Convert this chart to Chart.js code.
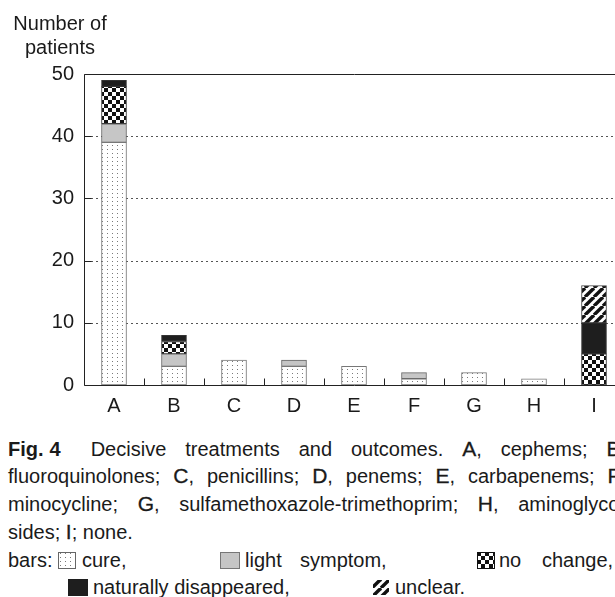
<!DOCTYPE html>
<html>
<head>
<meta charset="utf-8">
<script src="https://cdn.jsdelivr.net/npm/chart.js@4.4.1/dist/chart.umd.min.js"></script>
<style>
  html, body { margin: 0; padding: 0; width: 615px; height: 597px; overflow: hidden; background: #fff; }
  body { position: relative; font-family: "Liberation Sans", Arial, sans-serif; color: #1a1a1a; }
  #wrap { position: absolute; left: 0; top: 0; width: 660px; height: 430px; }
  .ytitle { position: absolute; left: 0; width: 120px; text-align: center; font-size: 20px; line-height: 24px; }
  .cap { position: absolute; left: 8px; width: 618px; font-size: 20px; line-height: 24px; white-space: nowrap;
         text-align: justify; text-align-last: justify; }
  .cap.last { text-align: left; text-align-last: left; }
  .k { font-size: 21px; -webkit-text-stroke: 0.3px #1a1a1a; }
  .fig { font-weight: bold; margin-right: 30px; }
  .fig .gap { display: inline-block; width: 6px; }
  .lg { position: absolute; font-size: 20px; line-height: 24px; white-space: nowrap; }
  canvas.sw { position: absolute; }
</style>
</head>
<body>
<div id="wrap"><canvas id="chart" width="660" height="430"></canvas></div>
<div class="ytitle" style="top:11px">Number of</div>
<div class="ytitle" style="top:35px">patients</div>

<div class="cap" style="top:437px"><span class="fig">Fig.<span class="gap"></span>4</span>Decisive treatments and outcomes. <span class="k">A</span>, cephems; <span class="k">B</span>,</div>
<div class="cap" style="top:464px">fluoroquinolones; <span class="k">C</span>, penicillins; <span class="k">D</span>, penems; <span class="k">E</span>, carbapenems; <span class="k">F</span>,</div>
<div class="cap" style="top:492px">minocycline; <span class="k">G</span>, sulfamethoxazole-trimethoprim; <span class="k">H</span>, aminoglyco-</div>
<div class="cap last" style="top:520px">sides; <span class="k">I</span>; none.</div>

<div class="lg" style="left:8px;top:548px">bars:</div>
<div class="lg" style="left:82px;top:548px">cure,</div>
<div class="lg" style="left:245px;top:548px">light</div>
<div class="lg" style="left:300px;top:548px">symptom,</div>
<div class="lg" style="left:499px;top:548px">no</div>
<div class="lg" style="left:542px;top:548px">change,</div>
<div class="lg" style="left:93px;top:575px">naturally disappeared,</div>
<div class="lg" style="left:395px;top:575px">unclear.</div>

<script>
// Outcome counts per decisive treatment (stacked bars)
const categories = ['A', 'B', 'C', 'D', 'E', 'F', 'G', 'H', 'I'];
const cure                 = [39, 3, 4, 3, 3, 1, 2, 1, 0];
const lightSymptom         = [3, 2, 0, 1, 0, 1, 0, 0, 0];
const noChange             = [6, 2, 0, 0, 0, 0, 0, 0, 5];
const naturallyDisappeared = [1, 1, 0, 0, 0, 0, 0, 0, 5];
const unclear              = [0, 0, 0, 0, 0, 0, 0, 0, 6];
const yTickValues = [0, 10, 20, 30, 40, 50];

const FONT = '"Liberation Sans", Arial, sans-serif';
const INK = '#1a1a1a';

// Fill patterns for the outcome kinds
function patternTile(kind) {
  const c = document.createElement('canvas');
  const g = c.getContext('2d');
  if (kind === 'dots') {
    c.width = 5; c.height = 4;
    g.fillStyle = '#fff'; g.fillRect(0, 0, 5, 4);
    g.fillStyle = '#7a7a7a'; g.fillRect(2, 1, 1, 1);
  } else if (kind === 'check') {
    c.width = 8; c.height = 8;
    g.fillStyle = '#fff'; g.fillRect(0, 0, 8, 8);
    g.fillStyle = '#111'; g.fillRect(0, 0, 4, 4); g.fillRect(4, 4, 4, 4);
  } else if (kind === 'hatch') {
    c.width = 9; c.height = 9;
    g.fillStyle = '#fff'; g.fillRect(0, 0, 9, 9);
    g.strokeStyle = '#111'; g.lineWidth = 3.4;
    for (const x0 of [-9, 0, 9]) {
      g.beginPath(); g.moveTo(x0, 9); g.lineTo(x0 + 9, 0); g.stroke();
    }
  }
  return c;
}
function fillFor(g, spec) {
  return spec.startsWith('#') ? spec : g.createPattern(patternTile(spec), 'repeat');
}

const ctx = document.getElementById('chart').getContext('2d');
const fills = {
  cure: fillFor(ctx, 'dots'),
  light: '#c6c6c6',
  noChange: fillFor(ctx, 'check'),
  natural: '#1e1e1e',
  unclear: fillFor(ctx, 'hatch')
};

const present = v => (v ? v : null);

// Frame, dotted gridlines and inward tick marks
const framePlugin = {
  id: 'frame',
  beforeDatasetsDraw(chart) {
    const { ctx, chartArea: a, scales: { y } } = chart;
    ctx.save();
    ctx.strokeStyle = '#555'; ctx.lineWidth = 1; ctx.setLineDash([2, 3]);
    yTickValues.forEach(v => {
      if (v === 0 || v === 50) return;
      const py = Math.round(y.getPixelForValue(v)) + 0.5;
      ctx.beginPath(); ctx.moveTo(a.left + 7, py); ctx.lineTo(a.right, py); ctx.stroke();
    });
    ctx.restore();
  },
  afterDatasetsDraw(chart) {
    const { ctx, chartArea: a, scales: { x, y } } = chart;
    const L = Math.round(a.left) + 0.5, R = Math.round(a.right) + 0.5;
    const T = Math.round(a.top) + 0.5, B = Math.round(a.bottom) + 0.5;
    ctx.save();
    ctx.strokeStyle = '#222'; ctx.lineWidth = 1; ctx.setLineDash([]);
    ctx.beginPath();
    ctx.moveTo(L, T); ctx.lineTo(R, T); ctx.lineTo(R, B); ctx.lineTo(L, B); ctx.closePath();
    ctx.stroke();
    // y ticks pointing inward
    yTickValues.forEach(v => {
      const py = Math.round(y.getPixelForValue(v)) + 0.5;
      ctx.beginPath(); ctx.moveTo(L, py); ctx.lineTo(L + 7, py); ctx.stroke();
    });
    // x ticks between categories, pointing upward
    for (let i = 0; i < categories.length - 1; i++) {
      const px = Math.round((x.getPixelForValue(i) + x.getPixelForValue(i + 1)) / 2) + 0.5;
      ctx.beginPath(); ctx.moveTo(px, B); ctx.lineTo(px, B - 7); ctx.stroke();
    }
    ctx.restore();
  }
};

new Chart(ctx, {
  type: 'bar',
  data: {
    labels: categories,
    datasets: [
      { label: 'cure', data: cure.map(present), backgroundColor: fills.cure, borderColor: '#777' },
      { label: 'light symptom', data: lightSymptom.map(present), backgroundColor: fills.light, borderColor: '#666' },
      { label: 'no change', data: noChange.map(present), backgroundColor: fills.noChange, borderColor: '#333' },
      { label: 'naturally disappeared', data: naturallyDisappeared.map(present), backgroundColor: fills.natural, borderColor: '#333' },
      { label: 'unclear', data: unclear.map(present), backgroundColor: fills.unclear, borderColor: '#444' }
    ]
  },
  options: {
    responsive: false,
    animation: false,
    devicePixelRatio: 1,
    layout: { padding: { top: 74, left: 0, right: 36, bottom: 0 } },
    datasets: { bar: { barThickness: 25, borderWidth: 1, borderSkipped: false } },
    plugins: { legend: { display: false }, tooltip: { enabled: false } },
    scales: {
      x: {
        stacked: true,
        grid: { display: false, drawTicks: false },
        border: { display: false },
        ticks: { padding: 9, color: INK, font: { family: FONT, size: 20 } },
        afterFit: s => { s.height = 45; }
      },
      y: {
        stacked: true,
        min: 0, max: 50,
        afterBuildTicks: s => { s.ticks = yTickValues.map(v => ({ value: v })); },
        grid: { display: false, drawTicks: false },
        border: { display: false },
        ticks: { padding: 10, color: INK, font: { family: FONT, size: 20 } },
        afterFit: s => { s.width = 84; }
      }
    }
  },
  plugins: [framePlugin]
});

// Legend swatches drawn with the same fills
function swatch(left, top, w, h, spec, border) {
  const c = document.createElement('canvas');
  c.className = 'sw'; c.width = w; c.height = h;
  c.style.left = left + 'px'; c.style.top = top + 'px';
  const g = c.getContext('2d');
  g.fillStyle = fillFor(g, spec);
  g.fillRect(0, 0, w, h);
  g.strokeStyle = border; g.lineWidth = 1; g.strokeRect(0.5, 0.5, w - 1, h - 1);
  document.body.appendChild(c);
}
swatch(58, 552, 18, 17, 'dots', '#666');
swatch(220, 552, 20, 17, '#c6c6c6', '#777');
swatch(477, 552, 18, 17, 'check', '#111');
swatch(68, 579, 20, 17, '#1e1e1e', '#1e1e1e');
swatch(372, 579, 18, 17, 'hatch', '#fff');
</script>
</body>
</html>
